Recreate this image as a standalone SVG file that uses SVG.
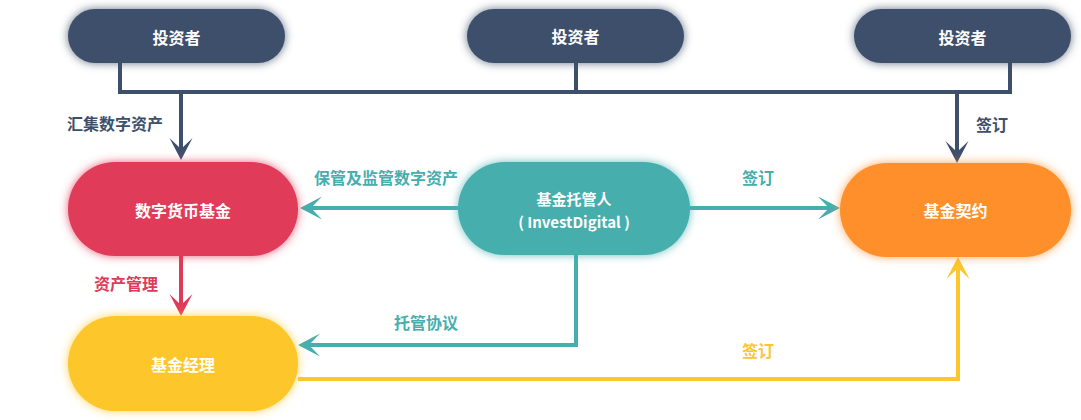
<svg xmlns="http://www.w3.org/2000/svg" width="1081" height="420" viewBox="0 0 1081 420">
<style>
text{font-family:"Noto Sans CJK SC","Noto Sans",sans-serif;font-weight:bold;font-size:16px;dominant-baseline:central}
.nt{fill:#fff;text-anchor:middle}
.sm{font-size:15px}
.ln{fill:none;stroke-width:4;stroke-linejoin:miter}
.navy{stroke:#3e4f6b}.teal{stroke:#46aeae}.red{stroke:#e03a59}.yel{stroke:#fdc62c}
</style>
<defs>
<filter id="glow" x="-20%" y="-30%" width="140%" height="160%">
<feGaussianBlur in="SourceGraphic" stdDeviation="5" result="b"/>
<feComponentTransfer in="b" result="c"><feFuncA type="linear" slope="0.8"/></feComponentTransfer>
<feMerge><feMergeNode in="c"/><feMergeNode in="SourceGraphic"/></feMerge>
</filter>
<marker id="mNavy" markerUnits="userSpaceOnUse" markerWidth="24" markerHeight="24" refX="14" refY="11.5" orient="auto"><path d="M0,0 L22,11.5 L0,23 L11,11.5 Z" fill="#3e4f6b"/></marker>
<marker id="mTeal" markerUnits="userSpaceOnUse" markerWidth="24" markerHeight="24" refX="14" refY="11.5" orient="auto"><path d="M0,0 L22,11.5 L0,23 L11,11.5 Z" fill="#46aeae"/></marker>
<marker id="mRed" markerUnits="userSpaceOnUse" markerWidth="24" markerHeight="24" refX="14" refY="11.5" orient="auto"><path d="M0,0 L22,11.5 L0,23 L11,11.5 Z" fill="#e03a59"/></marker>
<marker id="mYel" markerUnits="userSpaceOnUse" markerWidth="24" markerHeight="24" refX="14" refY="11.5" orient="auto"><path d="M0,0 L22,11.5 L0,23 L11,11.5 Z" fill="#fdc62c"/></marker>
</defs>
<rect width="1081" height="420" fill="#fff"/>
<g id="connectors">
<polyline class="ln navy" points="120,63 120,92 1010,92 1010,63"/>
<line class="ln navy" x1="576" y1="63" x2="576" y2="92"/>
<line class="ln navy" x1="181" y1="92" x2="181" y2="152" marker-end="url(#mNavy)"/>
<line class="ln navy" x1="957" y1="92" x2="957" y2="155" marker-end="url(#mNavy)"/>
<line class="ln teal" x1="458" y1="208" x2="308" y2="208" marker-end="url(#mTeal)"/>
<line class="ln teal" x1="690" y1="208" x2="832" y2="208" marker-end="url(#mTeal)"/>
<polyline class="ln teal" points="576,255 576,345 306,345" marker-end="url(#mTeal)"/>
<line class="ln red" x1="181" y1="256" x2="181" y2="308" marker-end="url(#mRed)"/>
<polyline class="ln yel" points="298,379 958,379 958,265" marker-end="url(#mYel)"/>
<text x="67" y="123" fill="#3e4f6b">汇集数字资产</text>
<text x="976" y="124" fill="#3e4f6b">签订</text>
<text x="314" y="177" fill="#46aeae">保管及监管数字资产</text>
<text x="742" y="177" fill="#46aeae">签订</text>
<text x="94" y="283" fill="#e03a59">资产管理</text>
<text x="394" y="322" fill="#46aeae">托管协议</text>
<text x="742" y="350" fill="#fdc62c">签订</text>
</g>
<g id="investor1"><rect x="68" y="9" width="217" height="54" rx="27" fill="#3e4f6b" filter="url(#glow)"/><text class="nt" x="176.5" y="37">投资者</text></g>
<g id="investor2"><rect x="467" y="9" width="217" height="54" rx="27" fill="#3e4f6b" filter="url(#glow)"/><text class="nt" x="575.5" y="36">投资者</text></g>
<g id="investor3"><rect x="854" y="9" width="217" height="54" rx="27" fill="#3e4f6b" filter="url(#glow)"/><text class="nt" x="962.5" y="37">投资者</text></g>
<g id="fund"><rect x="68" y="162" width="230" height="94" rx="47" fill="#e03a59" filter="url(#glow)"/><text class="nt" x="183" y="210">数字货币基金</text></g>
<g id="custodian"><rect x="458" y="162" width="232" height="93" rx="46.5" fill="#46aeae" filter="url(#glow)"/><text class="nt sm" x="574" y="198">基金托管人</text><text class="nt sm" x="574" y="221">( InvestDigital )</text></g>
<g id="contract"><rect x="840" y="163" width="231" height="94" rx="47" fill="#fe8f2a" filter="url(#glow)"/><text class="nt" x="955.5" y="210">基金契约</text></g>
<g id="manager"><rect x="68" y="316" width="230" height="95" rx="47.5" fill="#fdc62c" filter="url(#glow)"/><text class="nt" x="183" y="364">基金经理</text></g>
</svg>
